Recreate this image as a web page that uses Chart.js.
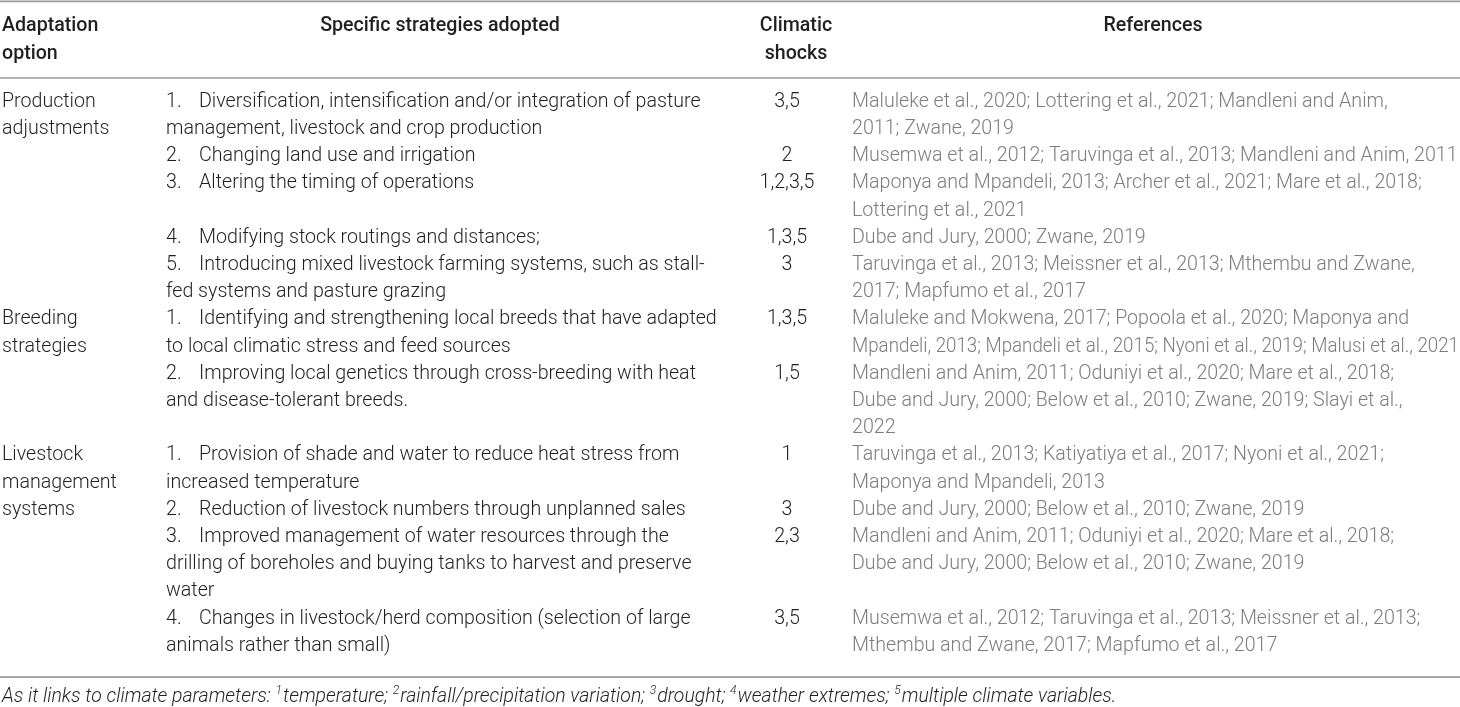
<!DOCTYPE html>
<html>
<head>
<meta charset="utf-8">
<script src="https://cdn.jsdelivr.net/npm/chart.js@4.4.1/dist/chart.umd.min.js"></script>
<style>
  html, body { margin: 0; padding: 0; background: #fff; }
  canvas { display: block; }
</style>
</head>
<body>
<canvas id="adaptTable" width="1460" height="707"></canvas>
<script>
// table content
const headerLabels = [["Adaptation", "option"], ["Specific strategies adopted"], ["Climatic", "shocks"], ["References"]];

const optionLabels = [["Production", "adjustments"], ["Breeding", "strategies"], ["Livestock", "management", "systems"]];

const strategyLines = [
  [
    ["Diversification, intensification and/or integration of pasture", "management, livestock and crop production"],
    ["Changing land use and irrigation"],
    ["Altering the timing of operations"],
    ["Modifying stock routings and distances;"],
    ["Introducing mixed livestock farming systems, such as stall-", "fed systems and pasture grazing"]
  ],
  [
    ["Identifying and strengthening local breeds that have adapted", "to local climatic stress and feed sources"],
    ["Improving local genetics through cross-breeding with heat", "and disease-tolerant breeds."]
  ],
  [
    ["Provision of shade and water to reduce heat stress from", "increased temperature"],
    ["Reduction of livestock numbers through unplanned sales"],
    ["Improved management of water resources through the", "drilling of boreholes and buying tanks to harvest and preserve", "water"],
    ["Changes in livestock/herd composition (selection of large", "animals rather than small)"]
  ]
];

const shockValues = [
  ["3,5", "2", "1,2,3,5", "1,3,5", "3"],
  ["1,3,5", "1,5"],
  ["1", "3", "2,3", "3,5"]
];

const referenceLines = [
  [
    ["Maluleke et al., 2020; Lottering et al., 2021; Mandleni and Anim,", "2011; Zwane, 2019"],
    ["Musemwa et al., 2012; Taruvinga et al., 2013; Mandleni and Anim, 2011"],
    ["Maponya and Mpandeli, 2013; Archer et al., 2021; Mare et al., 2018;", "Lottering et al., 2021"],
    ["Dube and Jury, 2000; Zwane, 2019"],
    ["Taruvinga et al., 2013; Meissner et al., 2013; Mthembu and Zwane,", "2017; Mapfumo et al., 2017"]
  ],
  [
    ["Maluleke and Mokwena, 2017; Popoola et al., 2020; Maponya and", "Mpandeli, 2013; Mpandeli et al., 2015; Nyoni et al., 2019; Malusi et al., 2021"],
    ["Mandleni and Anim, 2011; Oduniyi et al., 2020; Mare et al., 2018;", "Dube and Jury, 2000; Below et al., 2010; Zwane, 2019; Slayi et al.,", "2022"]
  ],
  [
    ["Taruvinga et al., 2013; Katiyatiya et al., 2017; Nyoni et al., 2021;", "Maponya and Mpandeli, 2013"],
    ["Dube and Jury, 2000; Below et al., 2010; Zwane, 2019"],
    ["Mandleni and Anim, 2011; Oduniyi et al., 2020; Mare et al., 2018;", "Dube and Jury, 2000; Below et al., 2010; Zwane, 2019"],
    ["Musemwa et al., 2012; Taruvinga et al., 2013; Meissner et al., 2013;", "Mthembu and Zwane, 2017; Mapfumo et al., 2017"]
  ]
];

const footnoteParts = [
  ["As it links to climate parameters: ", false], ["1", true], ["temperature; ", false],
  ["2", true], ["rainfall/precipitation variation; ", false], ["3", true], ["drought; ", false],
  ["4", true], ["weather extremes; ", false], ["5", true], ["multiple climate variables.", false]
];

// layout (x in page pixels, y in text-line units)
const FAMILY = "Roboto, 'Liberation Sans', Arial, sans-serif";
const colX = { option: 2, num: 166, text: 199, shock: 787, ref: 852 };
const headCenter = { strategy: 440, shock: 796, ref: 1153 };
const headY = [-2.8, -1.77];
const ruleY = { top: -3.7, head: -0.88, bottom: 21.15 };
const footY = 21.88;
const textColor = "#231f20";
const refColor = "#7d7d7d";
const ruleColor = "#9a9a9a";

const tablePlugin = {
  id: "tableText",
  afterDraw(chart) {
    const ctx = chart.ctx;
    const xs = chart.scales.x;
    const ys = chart.scales.y;
    const px = (v) => xs.getPixelForValue(v);
    const py = (v) => ys.getPixelForValue(v);

    // fit the body font to the widest reference line (~606px in the picture)
    ctx.font = "300 100px " + FAMILY;
    const probe = ctx.measureText(referenceLines[0][1][0]).width;
    const size = Math.max(14, Math.min(20, 100 * 606 / probe));
    const body = "300 " + size.toFixed(2) + "px " + FAMILY;
    const bold = "500 " + size.toFixed(2) + "px " + FAMILY;
    const refWidth = px(1459) - px(colX.ref);

    ctx.save();
    ctx.textBaseline = "middle";

    // rules
    ctx.strokeStyle = ruleColor;
    ctx.lineWidth = 1.6;
    [ruleY.top, ruleY.head, ruleY.bottom].forEach((v) => {
      ctx.beginPath();
      ctx.moveTo(px(0), py(v));
      ctx.lineTo(px(1460), py(v));
      ctx.stroke();
    });

    // header
    ctx.fillStyle = textColor;
    ctx.font = bold;
    ctx.textAlign = "left";
    headerLabels[0].forEach((t, i) => ctx.fillText(t, px(colX.option), py(headY[i])));
    ctx.textAlign = "center";
    headerLabels[1].forEach((t, i) => ctx.fillText(t, px(headCenter.strategy), py(headY[i])));
    headerLabels[2].forEach((t, i) => ctx.fillText(t, px(headCenter.shock), py(headY[i])));
    headerLabels[3].forEach((t, i) => ctx.fillText(t, px(headCenter.ref), py(headY[i])));

    // body rows
    ctx.font = body;
    let line = 0;
    optionLabels.forEach((labels, g) => {
      ctx.fillStyle = textColor;
      ctx.textAlign = "left";
      labels.forEach((t, i) => ctx.fillText(t, px(colX.option), py(line + i)));
      strategyLines[g].forEach((item, k) => {
        const refs = referenceLines[g][k];
        ctx.fillStyle = textColor;
        ctx.textAlign = "left";
        ctx.fillText((k + 1) + ".", px(colX.num), py(line));
        item.forEach((t, i) => ctx.fillText(t, px(i === 0 ? colX.text : colX.num), py(line + i)));
        ctx.textAlign = "center";
        ctx.fillText(shockValues[g][k], px(colX.shock), py(line));
        ctx.fillStyle = refColor;
        ctx.textAlign = "left";
        refs.forEach((t, i) => ctx.fillText(t, px(colX.ref), py(line + i), refWidth));
        line += Math.max(item.length, refs.length);
      });
    });

    // footnote with superscripts
    const footSize = size * 0.99;
    let x = px(colX.option);
    const fy = py(footY);
    ctx.fillStyle = textColor;
    ctx.textAlign = "left";
    footnoteParts.forEach(([t, sup]) => {
      ctx.font = "italic 300 " + (sup ? footSize * 0.62 : footSize).toFixed(2) + "px " + FAMILY;
      ctx.fillText(t, x, sup ? fy - footSize * 0.32 : fy);
      x += ctx.measureText(t).width + (sup ? 1 : 0);
    });
    ctx.restore();
  }
};

new Chart(document.getElementById("adaptTable"), {
  type: "scatter",
  data: { datasets: [] },
  options: {
    responsive: false,
    animation: false,
    events: [],
    layout: { padding: 0 },
    plugins: { legend: { display: false }, tooltip: { enabled: false } },
    scales: {
      x: { type: "linear", min: 0, max: 1460, display: false },
      y: { type: "linear", min: -3.75, max: 22.25, reverse: true, display: false }
    }
  },
  plugins: [tablePlugin]
});
</script>
</body>
</html>
